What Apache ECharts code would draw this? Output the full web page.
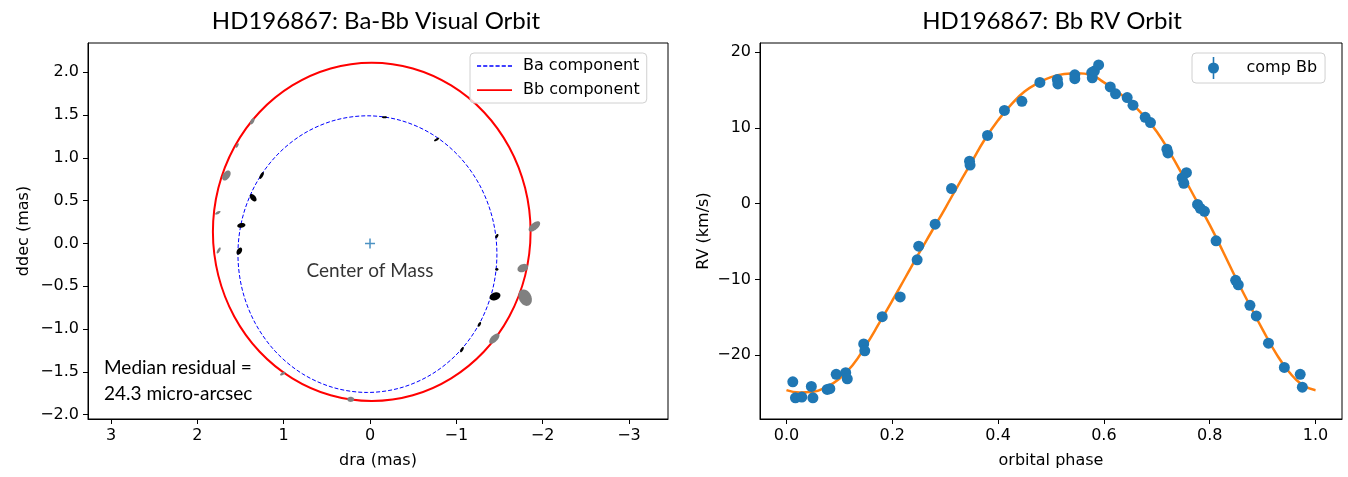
<html>
<head>
<meta charset="utf-8">
<title>HD196867 orbits</title>
<script src="https://cdn.jsdelivr.net/npm/echarts@6/dist/echarts.min.js"></script>
<style>
  html, body { margin: 0; padding: 0; background: #fff; }
  #main { width: 1348px; height: 477px; }
</style>
</head>
<body>
<div id="main"></div>
<script type="text/javascript">
    // ---- visual orbit (mas) ----
    var baOrbitDra  = [1.53, 1.479, 1.329, 1.091, 0.78, 0.418, 0.03, -0.358, -0.72, -1.031, -1.269, -1.419, -1.47, -1.419, -1.269, -1.031, -0.72, -0.358, 0.03, 0.418, 0.78, 1.091, 1.329, 1.479];
    var baOrbitDdec = [-0.125, 0.293, 0.683, 1.017, 1.274, 1.435, 1.49, 1.435, 1.274, 1.017, 0.683, 0.293, -0.125, -0.543, -0.933, -1.267, -1.524, -1.685, -1.74, -1.685, -1.524, -1.267, -0.933, -0.543];
    var bbOrbitDra  = [1.82, 1.757, 1.573, 1.281, 0.90, 0.456, -0.02, -0.496, -0.94, -1.321, -1.613, -1.797, -1.86, -1.797, -1.613, -1.321, -0.94, -0.496, -0.02, 0.456, 0.90, 1.281, 1.573, 1.757];
    var bbOrbitDdec = [0.135, 0.646, 1.123, 1.532, 1.845, 2.043, 2.11, 2.043, 1.845, 1.532, 1.123, 0.646, 0.135, -0.376, -0.853, -1.262, -1.575, -1.773, -1.84, -1.773, -1.575, -1.262, -0.853, -0.376];

    // measured positions with error ellipses (full axes in mas, angle in deg)
    var baDra    = [-0.168, -0.772, 1.256, 1.354, 1.491, 1.514, -1.469, -1.469, -1.448, -1.267, -1.065];
    var baDdec   = [1.473, 1.213, 0.793, 0.533, 0.21, -0.09, 0.085, -0.303, -0.618, -0.945, -1.24];
    var baErrMaj = [0.06, 0.07, 0.09, 0.10, 0.095, 0.09, 0.055, 0.04, 0.13, 0.06, 0.07];
    var baErrMin = [0.025, 0.025, 0.035, 0.06, 0.055, 0.055, 0.03, 0.03, 0.09, 0.03, 0.03];
    var baErrAng = [0, 30, 60, -50, 10, 60, 60, 0, 20, 60, 60];

    var bbDra    = [1.364, 1.539, 1.664, 1.763, 1.753, -1.904, -1.77, -1.797, -1.44, 1.011, 0.224];
    var bbDdec   = [1.426, 1.143, 0.793, 0.358, -0.082, 0.198, -0.288, -0.633, -1.111, -1.52, -1.82];
    var bbErrMaj = [0.08, 0.06, 0.13, 0.07, 0.08, 0.16, 0.13, 0.20, 0.15, 0.07, 0.08];
    var bbErrMin = [0.04, 0.025, 0.08, 0.03, 0.03, 0.08, 0.09, 0.145, 0.075, 0.03, 0.06];
    var bbErrAng = [60, 60, 55, 30, 60, 40, 25, 115, 45, 30, 0];

    var visXTicks = [3, 2, 1, 0, -1, -2, -3];
    var visYTicks = [-2, -1.5, -1, -0.5, 0, 0.5, 1, 1.5, 2];

    // ---- RV orbit ----
    var rvPhase = [0.012, 0.017, 0.029, 0.047, 0.050, 0.077, 0.082, 0.094, 0.112, 0.115, 0.146, 0.148, 0.181, 0.215, 0.247, 0.250, 0.281, 0.312, 0.346, 0.347, 0.380, 0.412, 0.445, 0.479, 0.512, 0.513, 0.545, 0.545, 0.577, 0.578, 0.582, 0.590, 0.612, 0.622, 0.644, 0.655, 0.678, 0.688, 0.719, 0.721, 0.756, 0.748, 0.751, 0.777, 0.782, 0.790, 0.812, 0.849, 0.854, 0.876, 0.888, 0.911, 0.941, 0.971, 0.975];
    var rvValue = [-23.5, -25.6, -25.5, -24.1, -25.6, -24.5, -24.4, -22.5, -22.3, -23.1, -18.5, -19.4, -14.9, -12.3, -7.4, -5.6, -2.7, 2.0, 5.6, 5.1, 9.0, 12.3, 13.5, 16.0, 16.4, 15.8, 17.0, 16.5, 17.3, 16.6, 17.5, 18.3, 15.4, 14.5, 14.0, 13.0, 11.4, 10.7, 7.2, 6.7, 4.1, 3.4, 2.7, -0.1, -0.6, -1.0, -4.9, -10.1, -10.7, -13.4, -14.8, -18.4, -21.6, -22.5, -24.2];

    var fitPhase = [0.0, 0.025, 0.05, 0.075, 0.10, 0.125, 0.15, 0.175, 0.20, 0.225, 0.25, 0.275, 0.30, 0.325, 0.35, 0.375, 0.40, 0.425, 0.45, 0.475, 0.50, 0.525, 0.55, 0.575, 0.60, 0.625, 0.65, 0.675, 0.70, 0.725, 0.75, 0.775, 0.80, 0.825, 0.85, 0.875, 0.90, 0.925, 0.95, 0.975, 1.0];
    var fitRv    = [-24.6, -24.9, -24.8, -24.2, -23.1, -21.3, -18.7, -15.8, -12.8, -9.7, -6.6, -3.6, -0.6, 2.5, 5.5, 8.5, 11.0, 13.1, 14.8, 15.9, 16.7, 17.1, 17.2, 17.0, 16.0, 14.8, 13.4, 11.6, 9.5, 6.7, 3.6, 0.4, -2.8, -6.3, -9.9, -13.3, -16.6, -19.7, -22.2, -23.9, -24.6];

    var rvXTicks = [0, 0.2, 0.4, 0.6, 0.8, 1.0];
    var rvYTicks = [-20, -10, 0, 10, 20];

    function zip(a, b) {
        return a.map(function (v, i) { return [v, b[i]]; });
    }
    function zip5(a, b, c, d, e) {
        return a.map(function (v, i) { return [v, b[i], c[i], d[i], e[i]]; });
    }
    function minus(s) { return String(s).replace('-', '\u2212'); }

    var tickFont = { fontFamily: 'DejaVu Sans', fontSize: 16, color: '#000' };
    var titleFont = 'Lato';

    // error ellipse drawn through the axis scale
    function ellipseItem(color) {
        return function (params, api) {
            var c = api.coord([api.value(0), api.value(1)]);
            var a = Math.abs(api.size([api.value(2), 0])[0]) / 2;
            var b = Math.abs(api.size([api.value(3), 0])[0]) / 2;
            var th = api.value(4) * Math.PI / 180;
            var pts = [];
            for (var k = 0; k < 32; k++) {
                var t = k / 32 * Math.PI * 2;
                var ex = a * Math.cos(t), ey = b * Math.sin(t);
                pts.push([c[0] + ex * Math.cos(th) - ey * Math.sin(th),
                          c[1] - (ex * Math.sin(th) + ey * Math.cos(th))]);
            }
            return { type: 'polygon', shape: { points: pts }, style: { fill: color } };
        };
    }

    // closed orbit through the read points, smoothed as a loop
    function orbitItem(dra, ddec, color, width, dash) {
        return function (params, api) {
            var pts = dra.map(function (v, i) { return api.coord([v, ddec[i]]); });
            return {
                type: 'polygon',
                shape: { points: pts, smooth: 0.33 },
                style: { fill: 'none', stroke: color, lineWidth: width, lineDash: dash }
            };
        };
    }

    function axisCommon(ticks, fmt) {
        return {
            axisLine: { show: true, onZero: false, lineStyle: { color: '#000', width: 1 } },
            axisTick: { show: true, inside: false, length: 5, customValues: ticks, lineStyle: { color: '#000' } },
            axisLabel: Object.assign({ margin: 9, customValues: ticks, formatter: fmt }, tickFont),
            splitLine: { show: false },
            nameTextStyle: { fontFamily: 'DejaVu Sans', fontSize: 16, color: '#000' }
        };
    }

    var dashIcon = 'path://M0,0h4v1.3h-4z M6,0h4v1.3h-4z M12,0h4v1.3h-4z M18,0h4v1.3h-4z M24,0h4v1.3h-4z M30,0h4v1.3h-4z';
    var solidIcon = 'path://M0,0h34v1.7h-34z';

    var myChart = echarts.init(document.getElementById('main'));

    var option = {
        animation: false,
        backgroundColor: '#fff',
        title: [
            { text: 'HD196867: Ba-Bb Visual Orbit', left: 371, top: 4, textAlign: 'center',
              textStyle: { fontFamily: titleFont, fontSize: 24, fontWeight: 'normal', color: '#000' } },
            { text: 'HD196867: Bb RV Orbit', left: 1047, top: 4, textAlign: 'center',
              textStyle: { fontFamily: titleFont, fontSize: 24, fontWeight: 'normal', color: '#000' } }
        ],
        grid: [
            { left: 88, right: 680, top: 43, bottom: 58, show: true, borderColor: '#000', borderWidth: 1 },
            { left: 760, right: 6, top: 43, bottom: 58, show: true, borderColor: '#000', borderWidth: 1 }
        ],
        legend: [
            {
                data: [{ name: 'Ba component', icon: dashIcon }, { name: 'Bb component', icon: solidIcon }],
                orient: 'vertical', left: 470, top: 53,
                itemWidth: 35, itemHeight: 16, itemGap: 8,
                padding: [5, 7, 5, 7],
                backgroundColor: 'rgba(255,255,255,0.8)',
                borderColor: '#d0d0d0', borderWidth: 1, borderRadius: 4,
                selectedMode: false,
                textStyle: { fontFamily: 'DejaVu Sans', fontSize: 16, color: '#000', padding: [0, 0, 0, 6] }
            },
            {
                data: [{ name: 'comp Bb', icon: 'path://M-1,-14L1,-14L1,14L-1,14Z M0,-7A7,7 0 1,1 0,7A7,7 0 1,1 0,-7Z' }],
                left: 1192, top: 53,
                itemWidth: 12, itemHeight: 22,
                padding: [4, 8, 4, 16],
                backgroundColor: 'rgba(255,255,255,0.8)',
                borderColor: '#d0d0d0', borderWidth: 1, borderRadius: 4,
                selectedMode: false,
                textStyle: { fontFamily: 'DejaVu Sans', fontSize: 16, color: '#000', padding: [0, 0, 0, 22] }
            }
        ],
        graphic: [
            { type: 'text', left: 104, top: 355,
              style: { text: 'Median residual =\n24.3 micro-arcsec', fontFamily: titleFont, fontSize: 19,
                       lineHeight: 26, fill: '#000' } }
        ],
        xAxis: [
            Object.assign(axisCommon(visXTicks, minus), {
                gridIndex: 0, type: 'value', inverse: true, min: -3.452, max: 3.267,
                name: 'dra (mas)', nameLocation: 'middle', nameGap: 34
            }),
            Object.assign(axisCommon(rvXTicks, function (v) { return v.toFixed(1); }), {
                gridIndex: 1, type: 'value', min: -0.05, max: 1.05,
                name: 'orbital phase', nameLocation: 'middle', nameGap: 34
            })
        ],
        yAxis: [
            Object.assign(axisCommon(visYTicks, function (v) { return minus(v.toFixed(1)); }), {
                gridIndex: 0, type: 'value', min: -2.05, max: 2.34,
                name: 'ddec (mas)', nameLocation: 'middle', nameGap: 56
            }),
            Object.assign(axisCommon(rvYTicks, minus), {
                gridIndex: 1, type: 'value', min: -28.4, max: 21.2,
                name: 'RV (km/s)', nameLocation: 'middle', nameGap: 48
            })
        ],
        series: [
            {
                name: 'Ba component', type: 'custom', xAxisIndex: 0, yAxisIndex: 0, z: 2,
                data: [[0, 0]], itemStyle: { color: '#0000ff' },
                renderItem: orbitItem(baOrbitDra, baOrbitDdec, '#0000ff', 1, [4, 2])
            },
            {
                name: 'Bb component', type: 'custom', xAxisIndex: 0, yAxisIndex: 0, z: 2,
                data: [[0, 0]], itemStyle: { color: '#ff0000' },
                renderItem: orbitItem(bbOrbitDra, bbOrbitDdec, '#ff0000', 2, null)
            },
            {
                type: 'custom', xAxisIndex: 0, yAxisIndex: 0, z: 3,
                renderItem: ellipseItem('#000000'),
                data: zip5(baDra, baDdec, baErrMaj, baErrMin, baErrAng)
            },
            {
                type: 'custom', xAxisIndex: 0, yAxisIndex: 0, z: 3,
                renderItem: ellipseItem('#808080'),
                data: zip5(bbDra, bbDdec, bbErrMaj, bbErrMin, bbErrAng)
            },
            {
                type: 'scatter', xAxisIndex: 0, yAxisIndex: 0, z: 4,
                data: [[0, 0]],
                symbol: 'path://M0,5L10,5M5,0L5,10', symbolSize: 10,
                itemStyle: { color: 'none', borderColor: '#1f77b4', borderWidth: 1.5 },
                label: { show: true, position: 'bottom', distance: 10, formatter: 'Center of Mass',
                         fontFamily: titleFont, fontSize: 19, color: '#000' }
            },
            {
                name: 'fit', type: 'line', xAxisIndex: 1, yAxisIndex: 1,
                data: zip(fitPhase, fitRv), smooth: true, symbol: 'none',
                lineStyle: { color: '#ff7f0e', width: 2.5 }, z: 2
            },
            {
                name: 'comp Bb', type: 'scatter', xAxisIndex: 1, yAxisIndex: 1,
                data: zip(rvPhase, rvValue), symbolSize: 11,
                itemStyle: { color: '#1f77b4', opacity: 1 }, z: 3
            }
        ]
    };

    myChart.setOption(option);
</script>
</body>
</html>
